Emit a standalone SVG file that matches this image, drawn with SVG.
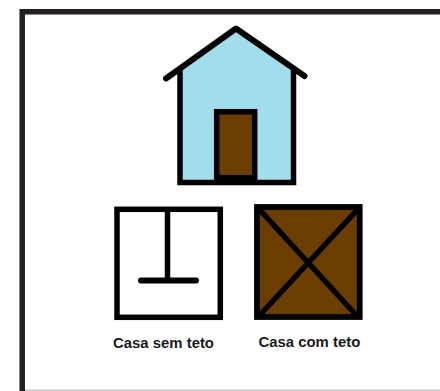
<svg xmlns="http://www.w3.org/2000/svg" width="440" height="391" viewBox="0 0 440 391">
<style>
.k{stroke:#000;stroke-width:6;stroke-linecap:round;stroke-linejoin:round;fill:none}
.b{stroke:#000;stroke-width:5.5;stroke-linejoin:miter}
.t{font-family:"Liberation Sans",Arial,sans-serif;font-weight:bold;font-size:14.9px;fill:#1a1a1a}
</style>
<rect width="440" height="391" fill="#fff"/>
<g id="frame">
<path d="M22.2 391V11.7H440" fill="none" stroke="#231f20" stroke-width="5.5"/>
<path d="M25 390.3H440" stroke="#c8c8c8" stroke-width="1.4"/>
</g>
<g id="house">
<path d="M180 182.5V72L236 31L293.500 72V182.500Z" fill="#a2dded"/>
<path class="b" d="M180 182.500V70M293.500 182.500V70M177.300 182.500H296.300" fill="none"/>
<path class="k" d="M166 78.500L236 28.500L304.500 76"/>
<rect x="216.700" y="111.700" width="38" height="66" fill="#6b3e00" stroke="#000" stroke-width="5.500"/>
<rect x="214" y="175" width="43" height="8" fill="#000"/>
</g>
<g id="casa-sem-teto">
<rect x="117" y="209.300" width="103.300" height="108" fill="#fff" class="b"/>
<path class="b" d="M167.500 210V280" fill="none"/>
<path class="k" d="M141 280.500H196"/>
<text class="t" x="113" y="347.700">Casa sem teto</text>
</g>
<g id="casa-com-teto">
<rect x="257" y="207" width="102.700" height="110" fill="#6b3e00" stroke="#000" stroke-width="5.800"/>
<path d="M259 209L357 316M358 209L259 316" stroke="#000" stroke-width="5.500" fill="none"/>
<text class="t" x="258.500" y="346.700">Casa com teto</text>
</g>
</svg>
